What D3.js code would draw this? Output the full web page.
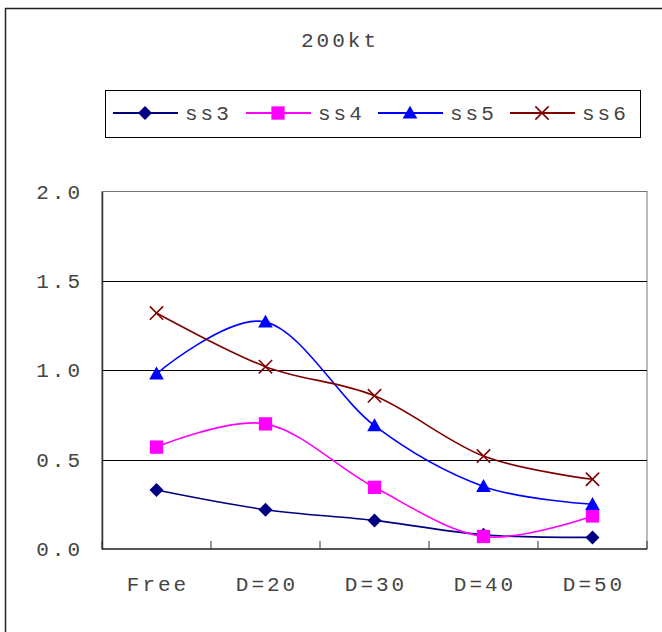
<!DOCTYPE html>
<html>
<head>
<meta charset="utf-8">
<script src="https://cdn.jsdelivr.net/npm/d3@7"></script>
<style>
  html, body { margin: 0; padding: 0; background: #fff; }
  svg text { font-family: "Liberation Mono", "DejaVu Sans Mono", monospace; fill: #444; }
</style>
</head>
<body>
<svg id="chart" width="662" height="632"></svg>
<script>
// Categories along the x axis
const categories = ["Free", "D=20", "D=30", "D=40", "D=50"];
// Series values
const ss3 = [0.33, 0.22, 0.16, 0.08, 0.065];
const ss4 = [0.57, 0.70, 0.345, 0.07, 0.185];
const ss5 = [0.98, 1.27, 0.69, 0.35, 0.25];
const ss6 = [1.32, 1.02, 0.857, 0.52, 0.39];
const seriesNames = ["ss3", "ss4", "ss5", "ss6"];
const yTicks = [0, 0.5, 1.0, 1.5, 2.0];
const title = "200kt";

const series = [
  { name: "ss3", values: ss3, color: "#000080", marker: "diamond" },
  { name: "ss4", values: ss4, color: "#FF00FF", marker: "square" },
  { name: "ss5", values: ss5, color: "#0000FF", marker: "triangle" },
  { name: "ss6", values: ss6, color: "#800000", marker: "cross" }
];

const FONT_SIZE = "21px";
const SPACING = "3px";

const svg = d3.select("#chart");
const plot = { left: 102, right: 647, top: 191.5, bottom: 549 };

// Outer chart frame (runs past the visible edge on the right and bottom)
svg.append("rect")
  .attr("x", 5.5).attr("y", 8.5)
  .attr("width", 720).attr("height", 720)
  .attr("fill", "none").attr("stroke", "#222").attr("stroke-width", 1.5);

// Title
svg.append("text")
  .attr("x", 340).attr("y", 47)
  .attr("text-anchor", "middle")
  .style("font-size", FONT_SIZE).style("letter-spacing", SPACING)
  .text(title);

const x = d3.scaleBand().domain(categories).range([plot.left, plot.right]);
const y = d3.scaleLinear().domain([0, 2]).range([plot.bottom, plot.top]);

// Plot area border
svg.append("rect")
  .attr("x", plot.left).attr("y", plot.top)
  .attr("width", plot.right - plot.left).attr("height", plot.bottom - plot.top)
  .attr("fill", "none").attr("stroke", "#777").attr("stroke-width", 1);

// Horizontal gridlines
svg.append("g").selectAll("line")
  .data(yTicks.filter(d => d > 0 && d < 2))
  .join("line")
  .attr("x1", plot.left).attr("x2", plot.right)
  .attr("y1", d => Math.round(y(d)) + 0.5).attr("y2", d => Math.round(y(d)) + 0.5)
  .attr("stroke", "#000").attr("stroke-width", 1);

// Y axis
const yAxis = svg.append("g")
  .attr("transform", `translate(${plot.left},0)`)
  .call(d3.axisLeft(y).tickValues(yTicks).tickFormat(d3.format(".1f")).tickSize(0).tickPadding(19));
yAxis.select(".domain").attr("stroke", "#333").attr("stroke-width", 1.5);
yAxis.selectAll("text")
  .style("font-size", FONT_SIZE).style("letter-spacing", SPACING)
  .attr("fill", "#444").attr("font-family", null);

// X axis: tick marks between categories, pointing inward
const xAxisG = svg.append("g").attr("transform", `translate(0,${plot.bottom})`);
xAxisG.append("line")
  .attr("x1", plot.left).attr("x2", plot.right)
  .attr("y1", 0).attr("y2", 0)
  .attr("stroke", "#333").attr("stroke-width", 1.5);
const boundaries = categories.map(c => x(c)).concat([plot.right]);
xAxisG.selectAll("line.tick")
  .data(boundaries)
  .join("line")
  .attr("class", "tick")
  .attr("x1", d => d).attr("x2", d => d)
  .attr("y1", 0).attr("y2", -8)
  .attr("stroke", "#333").attr("stroke-width", 1);
xAxisG.selectAll("text")
  .data(categories)
  .join("text")
  .attr("x", d => x(d) + x.bandwidth() / 2 + 1.5)
  .attr("y", 42)
  .attr("text-anchor", "middle")
  .style("font-size", FONT_SIZE).style("letter-spacing", SPACING)
  .text(d => d);

// Marker shapes
function drawMarker(g, type, color, size) {
  if (type === "diamond") {
    g.append("path").attr("d", `M0,${-size}L${size},0L0,${size}L${-size},0Z`).attr("fill", color);
  } else if (type === "square") {
    g.append("rect").attr("x", -size * 0.95).attr("y", -size * 0.95)
      .attr("width", size * 1.9).attr("height", size * 1.9).attr("fill", color);
  } else if (type === "triangle") {
    g.append("path").attr("d", `M0,${-size * 1.05}L${size * 1.05},${size * 0.8}L${-size * 1.05},${size * 0.8}Z`).attr("fill", color);
  } else if (type === "cross") {
    const s = size * 0.95;
    g.append("path").attr("d", `M${-s},${-s}L${s},${s}M${s},${-s}L${-s},${s}`)
      .attr("stroke", color).attr("stroke-width", 1.6).attr("fill", "none");
  }
}

const line = d3.line()
  .x((d, i) => x(categories[i]) + x.bandwidth() / 2)
  .y(d => y(d))
  .curve(d3.curveCardinal.tension(0));

series.forEach(s => {
  svg.append("path")
    .datum(s.values)
    .attr("d", line)
    .attr("fill", "none")
    .attr("stroke", s.color)
    .attr("stroke-width", 1.6);
});
series.forEach(s => {
  s.values.forEach((v, i) => {
    const g = svg.append("g")
      .attr("transform", `translate(${x(categories[i]) + x.bandwidth() / 2},${y(v)})`);
    drawMarker(g, s.marker, s.color, 7);
  });
});

// Legend
const legend = svg.append("g");
legend.append("rect")
  .attr("x", 105.5).attr("y", 90.5).attr("width", 535).attr("height", 47)
  .attr("fill", "#fff").attr("stroke", "#000").attr("stroke-width", 1);
const legendX = [113, 246, 378, 510];
series.forEach((s, i) => {
  const g = legend.append("g").attr("transform", `translate(${legendX[i]},113)`);
  g.append("line").attr("x1", 0).attr("x2", 65).attr("y1", 0).attr("y2", 0)
    .attr("stroke", s.color).attr("stroke-width", 2);
  const m = g.append("g").attr("transform", "translate(32,0)");
  drawMarker(m, s.marker, s.color, 7);
  g.append("text").attr("x", 72).attr("y", 7)
    .style("font-size", FONT_SIZE).style("letter-spacing", SPACING)
    .text(seriesNames[i]);
});
</script>
</body>
</html>
